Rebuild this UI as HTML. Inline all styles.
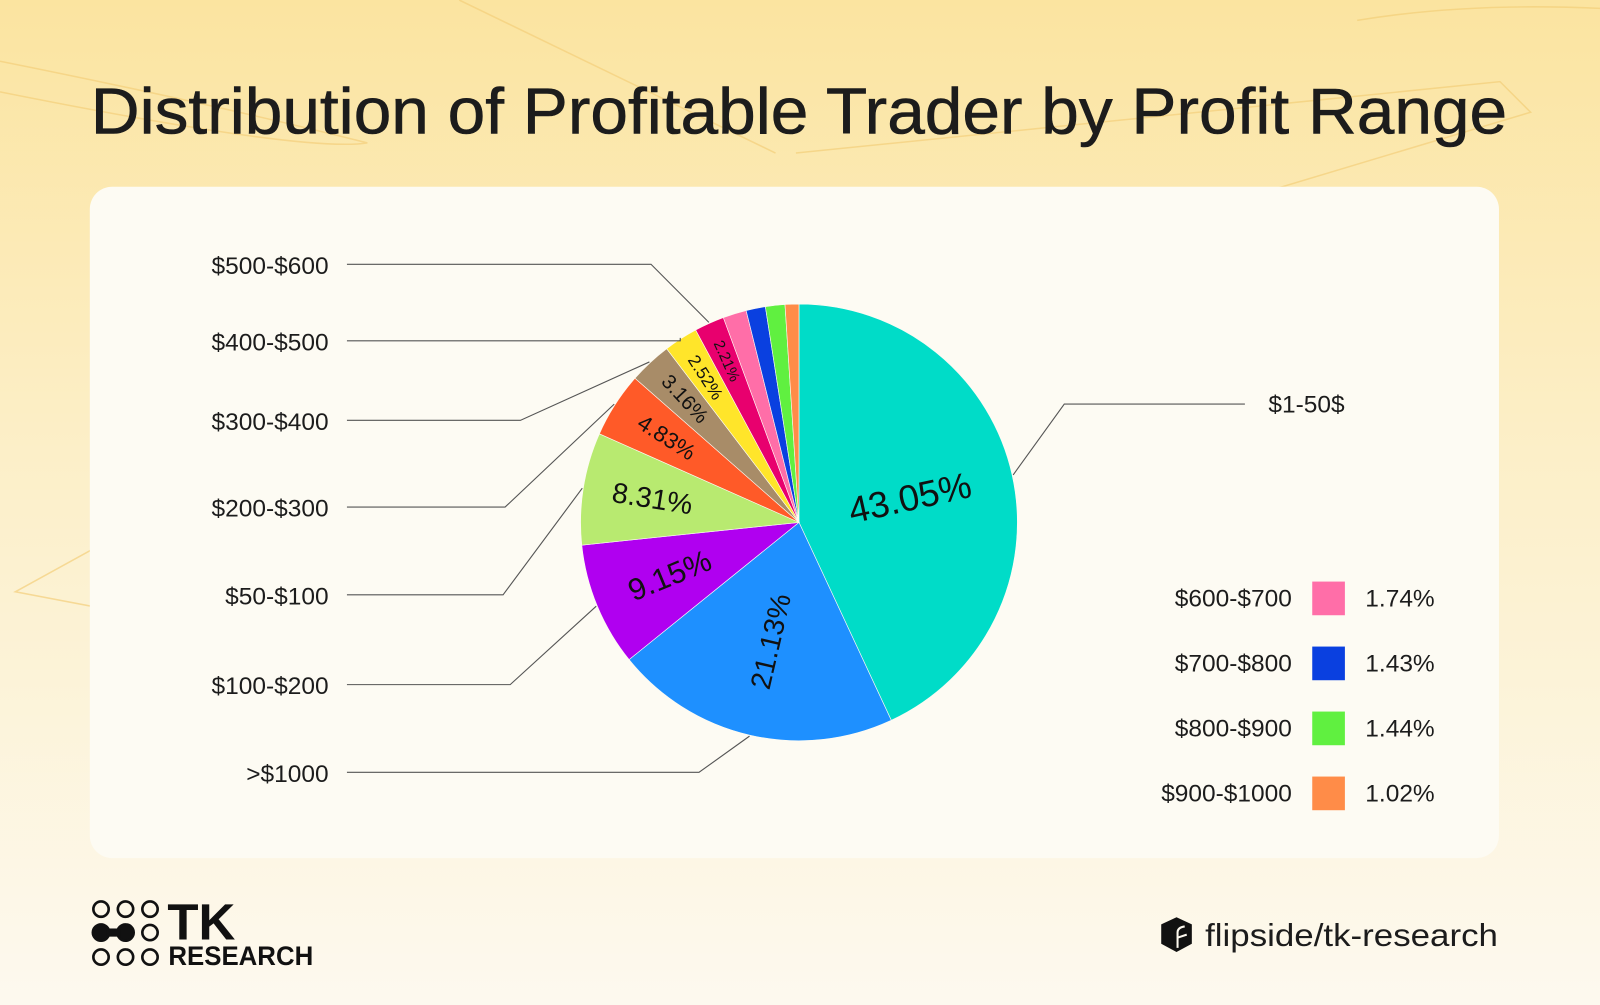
<!DOCTYPE html>
<html><head><meta charset="utf-8"><style>
html,body{margin:0;padding:0;width:1600px;height:1005px;overflow:hidden}
body{font-family:"Liberation Sans",sans-serif}
</style></head><body>
<svg id="chart" width="1600" height="1005" viewBox="0 0 1568 985" preserveAspectRatio="none" xmlns="http://www.w3.org/2000/svg">
<defs>
<linearGradient id="bg" x1="0" y1="0" x2="0" y2="1">
<stop offset="0" stop-color="#fbe4a0"/><stop offset="0.45" stop-color="#fcefc8"/><stop offset="1" stop-color="#fdf9ef"/>
</linearGradient>
</defs>
<rect width="1568" height="985" fill="url(#bg)"/>
<g fill="none" stroke="#f3cf7a" stroke-width="1.5" opacity="0.7">
<path d="M0 60 Q200 100 360 140 Q300 150 0 90"/>
<path d="M1330 20 Q1450 0 1600 10"/>
<path d="M1000 260 L1500 110 L1470 80 L780 150"/>
<path d="M15 580 L560 280 L600 300 L120 600 Z"/>
<path d="M450 0 L760 150"/>
</g>
<text x="89" y="131" font-size="64" fill="#1c1c1c" stroke="#1c1c1c" stroke-width="0.6" textLength="1388" lengthAdjust="spacingAndGlyphs">Distribution of Profitable Trader by Profit Range</text>
<rect x="88" y="183" width="1381" height="658" rx="22" fill="#fdfbf3"/>
<g id="pie"></g>
<g id="leaders"></g>
<g id="labels"></g>
<g id="legend"></g>
<g fill="none" stroke="#111" stroke-width="2.6">
<circle cx="99" cy="891" r="7.5"/><circle cx="123" cy="891" r="7.5"/><circle cx="147" cy="891" r="7.5"/>
<circle cx="99" cy="914" r="8" fill="#111"/><circle cx="123" cy="914" r="8" fill="#111"/><rect x="104" y="910" width="14" height="8" fill="#111" stroke="none"/><circle cx="147" cy="914" r="7.5"/>
<circle cx="99" cy="938" r="7.5"/><circle cx="123" cy="938" r="7.5"/><circle cx="147" cy="938" r="7.5"/>
</g>
<text x="164" y="921" font-size="50" font-weight="bold" fill="#111">TK</text>
<text x="165" y="946" font-size="26" font-weight="bold" fill="#111" textLength="142" lengthAdjust="spacingAndGlyphs">RESEARCH</text>
<g>
<path d="M1153 899 L1168 906 L1168 925 L1153 933 L1138 925 L1138 906 Z" fill="#111"/>
<path d="M1154 929 L1154 914 Q1154 909 1161 908 M1154 919 L1163 916" stroke="#fdf9ef" stroke-width="2" fill="none"/>
</g>
<text x="1181" y="927" font-size="31" fill="#1c1c1c" textLength="287" lengthAdjust="spacingAndGlyphs">flipside/tk-research</text>
</svg>
<script>
const categories=["$1-50$",">$1000","$100-$200","$50-$100","$200-$300","$300-$400","$400-$500","$500-$600","$600-$700","$700-$800","$800-$900","$900-$1000"];
const values=[43.05,21.13,9.15,8.31,4.83,3.16,2.52,2.21,1.74,1.43,1.44,1.02];
const valueLabels=["43.05%","21.13%","9.15%","8.31%","4.83%","3.16%","2.52%","2.21%","1.74%","1.43%","1.44%","1.02%"];
const colors=["#00dcc8","#1e90ff","#b000f0","#b8ea70","#ff5a28","#a88c68","#ffe52a","#e8006e","#ff6ea8","#0a40e0","#60f040","#ff8c48"];
const inSliceFont=[36,28,30,28,22,20,17,15,0,0,0,0];
const inSliceRad=[0.52,0.56,0.64,0.68,0.72,0.77,0.79,0.81,0,0,0,0];
const leftIdx=[1,2,3,4,5,6,7];
const leaderLayout={1:[757,685,757],2:[671,500,671],3:[583,493,583],4:[497,495,497],5:[412,510,412],6:[334,null,334],7:[259,638,259],0:[396,1043,396]};
const legendIdx=[8,9,10,11];

const NS="http://www.w3.org/2000/svg";
const cx=783,cy=512,R=214;
const total=values.reduce((a,b)=>a+b,0);
function angleOf(v){return v/total*360;}
function pt(deg,r){const a=deg*Math.PI/180;return [cx+r*Math.sin(a),cy-r*Math.cos(a)];}
const pie=document.getElementById('pie'),leaders=document.getElementById('leaders'),labels=document.getElementById('labels'),legend=document.getElementById('legend');
let start=0;const mids=[];
values.forEach((v,i)=>{
  const end=start+angleOf(v);
  const p0=pt(start,R),p1=pt(end,R);
  const large=(end-start)>180?1:0;
  const path=document.createElementNS(NS,'path');
  path.setAttribute('d',`M${cx},${cy} L${p0[0]},${p0[1]} A${R},${R} 0 ${large} 1 ${p1[0]},${p1[1]} Z`);
  path.setAttribute('fill',colors[i]);
  path.setAttribute('stroke','#fdfbf3');path.setAttribute('stroke-width','0.6');
  
  
  pie.appendChild(path);
  const mid=(start+end)/2;mids.push(mid);
  if(inSliceFont[i]>0){
    const q=pt(mid,R*inSliceRad[i]);
    const rot=mid<180?mid-90:mid-270;
    const t=document.createElementNS(NS,'text');
    t.setAttribute('x',q[0]);t.setAttribute('y',q[1]);
    t.setAttribute('font-size',inSliceFont[i]);
    t.setAttribute('text-anchor','middle');t.setAttribute('dominant-baseline','central');
    t.setAttribute('fill','#111');
    t.setAttribute('transform',`rotate(${rot} ${q[0]} ${q[1]})`);
    t.textContent=valueLabels[i];
    
    
    labels.appendChild(t);
  }
  start=end;
});
function addLine(pts,i){
  const pl=document.createElementNS(NS,'polyline');
  pl.setAttribute('points',pts.map(p=>p.join(',')).join(' '));
  pl.setAttribute('fill','none');pl.setAttribute('stroke','#555');pl.setAttribute('stroke-width','1.1');
  
  
  leaders.appendChild(pl);
}
function addText(x,y,s,anchor,name,size){
  const t=document.createElementNS(NS,'text');
  t.setAttribute('x',x);t.setAttribute('y',y);t.setAttribute('font-size',size||24);
  t.setAttribute('text-anchor',anchor);t.setAttribute('dominant-baseline','central');t.setAttribute('fill','#1c1c1c');
  t.textContent=s;
  
  
  labels.appendChild(t);
}
leftIdx.forEach(i=>{
  const e=pt(mids[i],R+1);const L=leaderLayout[i];
  const pts=[[340,L[0]]];
  if(L[1]!==null)pts.push([L[1],L[2]]);else pts.push([e[0],L[0]]);
  pts.push(e);
  addLine(pts,i);
  addText(322,L[0]+2,categories[i],'end','category-label-'+i);
});
{const e=pt(mids[0],R+1);const L=leaderLayout[0];addLine([e,[L[1],L[2]],[1220,L[0]]],0);addText(1243,L[0]+1,categories[0],'start','category-label-0');}
legendIdx.forEach((i,k)=>{
  const y=587+k*63.7;
  addText(1266,y,categories[i],'end','legend-label-'+i);
  const r=document.createElementNS(NS,'rect');
  r.setAttribute('x',1286);r.setAttribute('y',y-17);r.setAttribute('width',32);r.setAttribute('height',33);r.setAttribute('fill',colors[i]);
  
  
  legend.appendChild(r);
  addText(1338,y,valueLabels[i],'start','legend-value-'+i);
});
</script>
</body></html>
